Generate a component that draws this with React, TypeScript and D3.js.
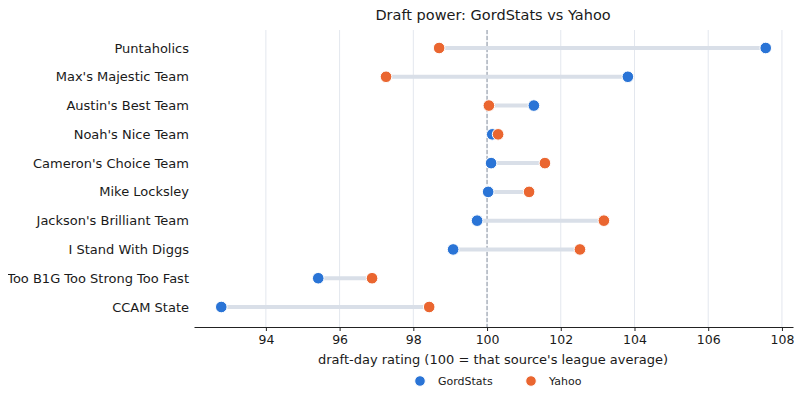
import React, { useEffect, useRef } from 'react';
import * as d3 from 'd3';

const teams = [
  'Puntaholics',
  "Max's Majestic Team",
  "Austin's Best Team",
  "Noah's Nice Team",
  "Cameron's Choice Team",
  'Mike Locksley',
  "Jackson's Brilliant Team",
  'I Stand With Diggs',
  'Too B1G Too Strong Too Fast',
  'CCAM State',
];
const gordStats = [107.56, 103.82, 101.27, 100.14, 100.11, 100.03, 99.73, 99.08, 95.42, 92.79];
const yahoo = [98.7, 97.26, 100.05, 100.3, 101.57, 101.14, 103.17, 102.52, 96.88, 98.43];
const xTicks = [94, 96, 98, 100, 102, 104, 106, 108];

const BLUE = '#2a74d6';
const ORANGE = '#ea6630';

const App: React.FC = () => {
  const svgRef = useRef<SVGSVGElement>(null);

  useEffect(() => {
    if (!svgRef.current) return;
    const width = 802;
    const height = 401;
    const margin = { top: 30, right: 9, bottom: 74, left: 194 };

    const svg = d3.select(svgRef.current);
    svg.selectAll('*').remove();
    const font = 'DejaVu Sans, sans-serif';

    const x = d3.scaleLinear()
      .domain([92.05, 108.3])
      .range([margin.left, width - margin.right]);

    const y = d3.scalePoint<string>()
      .domain(teams)
      .range([48, 307]);

    // Grid lines
    svg.append('g')
      .selectAll('line')
      .data(xTicks)
      .join('line')
      .attr('x1', d => x(d)).attr('x2', d => x(d))
      .attr('y1', margin.top).attr('y2', height - margin.bottom)
      .attr('stroke', '#e3e7ee')
      .attr('stroke-width', 1);

    // Reference line at 100
    svg.append('line')
      .attr('x1', x(100)).attr('x2', x(100))
      .attr('y1', margin.top).attr('y2', height - margin.bottom)
      .attr('stroke', '#8d95a3')
      .attr('stroke-width', 1)
      .attr('stroke-dasharray', '4,2');

    // Connecting segments
    svg.append('g')
      .selectAll('line')
      .data(teams)
      .join('line')
      .attr('x1', (d, i) => x(gordStats[i]))
      .attr('x2', (d, i) => x(yahoo[i]))
      .attr('y1', d => y(d)!)
      .attr('y2', d => y(d)!)
      .attr('stroke', '#d9dfe8')
      .attr('stroke-width', 4);

    // Dots
    const drawDots = (vals: number[], color: string) => {
      svg.append('g')
        .selectAll('circle')
        .data(teams)
        .join('circle')
        .attr('cx', (d, i) => x(vals[i]))
        .attr('cy', d => y(d)!)
        .attr('r', 5.8)
        .attr('fill', color)
        .attr('stroke', '#fff')
        .attr('stroke-width', 1);
    };
    drawDots(gordStats, BLUE);
    drawDots(yahoo, ORANGE);

    // Team labels
    svg.append('g')
      .selectAll('text')
      .data(teams)
      .join('text')
      .attr('x', margin.left - 5)
      .attr('y', d => y(d)!)
      .attr('dy', '0.35em')
      .attr('text-anchor', 'end')
      .attr('font-family', font)
      .attr('font-size', '13px')
      .attr('fill', '#1a1a1a')
      .text(d => d);

    // X axis
    const axisY = height - margin.bottom;
    svg.append('g')
      .attr('transform', `translate(0, ${axisY})`)
      .call(d3.axisBottom(x).tickValues(xTicks).tickSize(4).tickPadding(4).tickSizeOuter(0))
      .call(g => g.select('.domain').attr('stroke', '#222'))
      .call(g => g.selectAll('.tick line').attr('stroke', '#222'))
      .call(g => g.selectAll('.tick text')
        .attr('font-family', font)
        .attr('font-size', '12.5px')
        .attr('fill', '#1a1a1a'));

    svg.append('text')
      .attr('x', x(100) + 6)
      .attr('y', 364)
      .attr('text-anchor', 'middle')
      .attr('font-family', font)
      .attr('font-size', '13px')
      .attr('fill', '#1a1a1a')
      .text("draft-day rating (100 = that source's league average)");

    // Title
    svg.append('text')
      .attr('x', x(100) + 6)
      .attr('y', 20)
      .attr('text-anchor', 'middle')
      .attr('font-family', font)
      .attr('font-size', '14.5px')
      .attr('fill', '#1a1a1a')
      .text('Draft power: GordStats vs Yahoo');

    // Legend
    const legendItems = [
      { label: 'GordStats', color: BLUE, x: 420 },
      { label: 'Yahoo', color: ORANGE, x: 531 },
    ];
    const legend = svg.append('g');
    legendItems.forEach(item => {
      legend.append('circle')
        .attr('cx', item.x)
        .attr('cy', 381)
        .attr('r', 5.3)
        .attr('fill', item.color)
        .attr('stroke', '#fff')
        .attr('stroke-width', 1);
      legend.append('text')
        .attr('x', item.x + 18)
        .attr('y', 381)
        .attr('dy', '0.35em')
        .attr('font-family', font)
        .attr('font-size', '11px')
        .attr('fill', '#1a1a1a')
        .text(item.label);
    });
  }, []);

  return (
    <div style={{ width: 802, height: 401, margin: -8 }}>
      <svg ref={svgRef} width={802} height={401} style={{ display: 'block', background: '#fff' }} />
    </div>
  );
};

export default App;
